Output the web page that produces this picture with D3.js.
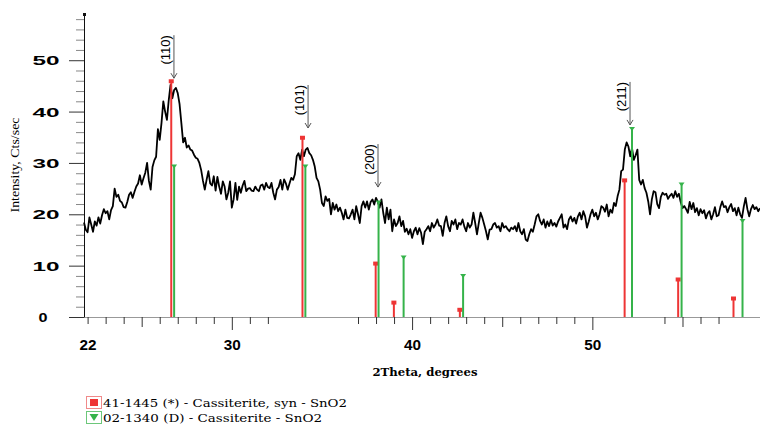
<!DOCTYPE html>
<html>
<head>
<meta charset="utf-8">
<script src="https://cdn.jsdelivr.net/npm/d3@7"></script>
<style>
    body { margin: 0; background: #fff; }
    svg { display: block; }
</style>
</head>
<body>
<div id="chart"></div>
<script>
// scan: 2theta start / step, counts
var scanStart = 21.8
    , scanStep = 0.1;

var counts = [
    18.4, 17.0, 16.5, 19.4, 18.0, 16.6, 18.6, 17.8, 19.4, 18.2,
    19.8, 21.0, 20.2, 20.6, 19.0, 20.8, 21.6, 25.0, 23.4, 23.8,
    22.6, 22.3, 21.4, 21.3, 22.4, 23.8, 24.3, 23.2, 24.4, 25.4,
    26.0, 27.6, 25.8, 27.0, 28.1, 30.0, 26.5, 24.8, 29.2, 30.5,
    31.2, 36.6, 34.5, 37.8, 42.0, 40.0, 38.4, 42.2, 45.2, 42.6,
    44.2, 44.6, 43.6, 41.5, 37.8, 34.0, 34.9, 33.0, 33.4, 32.6,
    32.4, 31.6, 31.0, 30.8, 30.0, 28.6, 26.5, 24.8, 26.7, 28.4,
    26.0, 25.6, 27.4, 24.6, 27.3, 25.4, 24.0, 26.4, 25.4, 22.9,
    24.2, 26.4, 21.3, 22.9, 26.1, 22.8, 25.4, 24.2, 25.6, 26.5,
    24.5, 25.0, 25.1, 24.6, 24.5, 25.4, 24.8, 24.5, 25.6, 25.8,
    24.8, 26.1, 25.3, 25.1, 26.1, 24.2, 22.9, 24.8, 25.3, 26.7,
    24.8, 26.8, 26.0, 24.8, 26.0, 27.1, 26.7, 27.8, 31.3, 31.9,
    30.6, 32.6, 31.3, 32.6, 32.9, 31.9, 31.5, 30.6, 29.3, 27.1,
    26.4, 24.8, 22.2, 21.6, 23.5, 22.6, 23.0, 20.0, 22.2, 20.9,
    21.9, 20.6, 21.3, 20.3, 19.0, 20.9, 19.3, 19.2, 20.0, 20.9,
    19.0, 21.6, 20.0, 18.3, 21.6, 22.5, 21.3, 22.5, 20.9, 22.4,
    22.9, 21.9, 23.2, 22.4, 21.3, 22.9, 20.3, 18.3, 21.3, 19.0,
    20.9, 16.7, 19.0, 17.7, 18.3, 19.6, 17.7, 18.7, 16.6, 17.2,
    16.1, 17.1, 15.4, 16.7, 17.4, 16.1, 17.3, 16.4, 14.2, 16.6,
    17.1, 17.7, 16.7, 18.3, 17.4, 18.0, 19.0, 17.8, 17.7, 15.8,
    18.3, 19.6, 17.7, 16.7, 18.7, 18.0, 19.0, 17.1, 18.3, 18.0,
    19.0, 17.6, 16.7, 18.3, 17.4, 18.0, 20.3, 18.3, 16.1, 18.3,
    20.3, 19.3, 18.0, 16.7, 15.1, 17.0, 17.1, 18.0, 18.3, 17.4,
    17.7, 16.7, 18.3, 17.4, 17.7, 17.1, 16.7, 17.4, 17.1, 17.7,
    16.7, 18.3, 16.7, 16.1, 17.1, 15.1, 14.8, 16.1, 17.1, 16.6,
    18.0, 19.6, 20.0, 18.7, 18.0, 19.0, 17.4, 18.6, 17.7, 18.9,
    17.8, 18.3, 17.6, 18.6, 19.3, 20.0, 17.4, 18.0, 17.1, 19.0,
    19.6, 18.6, 19.3, 18.2, 19.6, 20.3, 19.0, 20.6, 19.6, 17.4,
    18.6, 20.0, 20.9, 19.6, 20.3, 19.0, 20.0, 21.6, 21.3, 20.5,
    21.9, 19.6, 20.9, 20.3, 22.2, 21.6, 23.5, 24.8, 28.4, 28.7,
    32.6, 34.0, 33.2, 31.3, 32.9, 30.6, 31.5, 32.6, 26.7, 25.8,
    26.7, 25.1, 24.2, 22.5, 20.0, 22.9, 24.5, 24.3, 22.0, 21.2,
    23.4, 24.2, 23.8, 24.0, 23.0, 23.6, 24.0, 23.2, 24.5, 23.4,
    24.0, 22.4, 21.2, 21.6, 21.0, 20.3, 22.4, 21.0, 22.2, 20.4,
    21.2, 19.8, 21.0, 20.2, 20.8, 19.2, 20.2, 20.6, 19.0, 20.0,
    21.4, 19.6, 19.8, 21.4, 22.5, 21.4, 21.6, 20.4, 21.4, 22.0,
    20.6, 21.2, 19.8, 21.3, 20.0, 19.3, 21.5, 23.2, 21.0, 19.6,
    21.0, 21.8, 21.0, 21.4, 20.6, 21.2
];

// reference patterns
var synPos = [26.64, 33.92, 37.98, 38.99, 42.65, 51.79, 54.76, 57.83];
var synInt = [46.0, 35.0, 10.5, 2.9, 1.5, 26.7, 7.4, 3.7];
var natPos = [26.80, 34.08, 38.14, 39.53, 42.83, 52.20, 54.95, 58.33];
var natInt = [29.5, 29.5, 22.5, 11.8, 8.2, 36.8, 26.0, 18.9];

// hkl annotations
var hklLabels = ['(110)', '(101)', '(200)', '(211)'];
var hklPos = [26.79, 34.23, 38.11, 52.09];
var hklTip = [46.5, 36.8, 25.3, 37.4];

var xTicks = [22, 23, 24, 25, 26, 27, 28, 29, 30, 31, 32,
    37, 38, 39, 40, 41, 42, 43, 44, 45, 46, 47, 48, 49, 50, 54, 55, 56, 57];
var xLabelTicks = [22, 30, 40, 50];
var yLabelTicks = [0, 10, 20, 30, 40, 50];

var legendNames = [
    '41-1445 (*) - Cassiterite, syn - SnO2',
    '02-1340 (D) - Cassiterite - SnO2'
];

;(function () {

    var width = 760
        , height = 424
        , red = '#ee3535'
        , green = '#35b34a'
        , svg, x, y;

    function drawAxes() {
        var gx = svg.append('g')
            .attr('transform', 'translate(0,' + y(0) + ')')
            .call(d3.axisBottom(x)
                .tickValues(xTicks)
                .tickSize(7)
                .tickSizeOuter(0)
                .tickFormat(function(d) {
                    return xLabelTicks.indexOf(d) >= 0 ? d : '';
                }));

        gx.select('.domain').attr('stroke', '#999');
        gx.selectAll('.tick line')
            .attr('stroke', '#333')
            .attr('y2', function(d) {
                return d % 10 === 0 ? 13 : (d % 5 === 0 ? 10 : 7);
            });
        gx.selectAll('.tick text')
            .attr('y', 33)
            .attr('dy', 0)
            .attr('fill', '#000')
            .style('font', 'bold 14px "Liberation Sans", Arial, sans-serif')
            .attr('textLength', 17)
            .attr('lengthAdjust', 'spacingAndGlyphs');

        var gy = svg.append('g')
            .attr('transform', 'translate(' + x.range()[0] + ',0)')
            .call(d3.axisLeft(y)
                .tickValues(d3.range(0, 59, 2))
                .tickSize(8)
                .tickSizeOuter(0)
                .tickFormat(function(d) {
                    return yLabelTicks.indexOf(d) >= 0 ? d : '';
                }));

        gy.select('.domain').attr('stroke', '#111');
        gy.selectAll('.tick line')
            .attr('stroke', function(d) { return d % 10 === 0 ? '#333' : '#888'; })
            .attr('x2', function(d) { return d % 10 === 0 ? -15 : -8; });
        gy.selectAll('.tick text')
            .attr('x', function(d) { return d === 0 ? -41 : -38; })
            .attr('dy', '0.36em')
            .attr('text-anchor', 'middle')
            .attr('fill', '#000')
            .style('font', 'bold 13px "Liberation Sans", Arial, sans-serif')
            .attr('textLength', function(d) { return d === 0 ? 9 : 27; })
            .attr('lengthAdjust', 'spacingAndGlyphs');

        // little mark on top of the y axis
        svg.append('rect')
            .attr('x', x.range()[0] - 1)
            .attr('y', y.range()[1] - 1)
            .attr('width', 3)
            .attr('height', 3)
            .attr('fill', '#111');

        svg.append('text')
            .attr('transform', 'translate(19,165) rotate(-90)')
            .attr('text-anchor', 'middle')
            .style('font', '13px "Liberation Serif", "Times New Roman", serif')
            .attr('textLength', 95)
            .attr('lengthAdjust', 'spacingAndGlyphs')
            .text('Intensity, Cts/sec');

        svg.append('text')
            .attr('x', 425)
            .attr('y', 376)
            .attr('text-anchor', 'middle')
            .style('font', 'bold 11px "DejaVu Serif", serif')
            .attr('textLength', 105)
            .attr('lengthAdjust', 'spacingAndGlyphs')
            .text('2Theta, degrees');
    }

    function drawScan() {
        var line = d3.line()
            .x(function(d, i) { return x(scanStart + i * scanStep); })
            .y(function(d) { return y(d); });

        svg.append('path')
            .datum(counts)
            .attr('fill', 'none')
            .attr('stroke', '#000')
            .attr('stroke-width', 1.8)
            .attr('stroke-linejoin', 'round')
            .attr('d', line);
    }

    function drawSticks(pos, ints, color, marker) {
        var g = svg.append('g');
        var data = pos.map(function(p, i) { return [p, ints[i]]; });

        g.selectAll('line')
            .data(data)
            .enter().append('line')
            .attr('x1', function(d) { return x(d[0]); })
            .attr('x2', function(d) { return x(d[0]); })
            .attr('y1', y(0))
            .attr('y2', function(d) { return y(d[1]); })
            .attr('stroke', color)
            .attr('stroke-width', 2);

        if (marker === 'square') {
            g.selectAll('rect')
                .data(data)
                .enter().append('rect')
                .attr('x', function(d) { return x(d[0]) - 2.5; })
                .attr('y', function(d) { return y(d[1]) - 1.5; })
                .attr('width', 5)
                .attr('height', 4)
                .attr('fill', color);
        } else {
            g.selectAll('path')
                .data(data)
                .enter().append('path')
                .attr('d', function(d) {
                    var cx = x(d[0]), cy = y(d[1]);
                    return 'M' + (cx - 3) + ',' + (cy - 1) + 'L' + (cx + 3) + ',' + (cy - 1) + 'L' + cx + ',' + (cy + 3) + 'Z';
                })
                .attr('fill', color);
        }
    }

    function drawHkl() {
        var g = svg.append('g');
        hklLabels.forEach(function(label, i) {
            var tx = x(hklPos[i])
                , ty = y(hklTip[i])
                , top = ty - 43;

            g.append('line')
                .attr('x1', tx).attr('x2', tx)
                .attr('y1', top).attr('y2', ty)
                .attr('stroke', '#555')
                .attr('stroke-width', 1);
            g.append('path')
                .attr('d', 'M' + (tx - 3) + ',' + (ty - 5) + 'L' + tx + ',' + ty + 'L' + (tx + 3) + ',' + (ty - 5))
                .attr('fill', 'none')
                .attr('stroke', '#555')
                .attr('stroke-width', 1);
            g.append('text')
                .attr('transform', 'translate(' + (tx - 4) + ',' + top + ') rotate(-90)')
                .attr('text-anchor', 'end')
                .style('font', '13px "Liberation Sans", Arial, sans-serif')
                .text(label);
        });
    }

    function drawLegend() {
        var g = svg.append('g');
        var rows = [
            { name: legendNames[0], color: red, border: '#f08a8a', y: 396.5, tl: 244 },
            { name: legendNames[1], color: green, border: '#6cc77a', y: 411.5, tl: 219 }
        ];

        rows.forEach(function(r, i) {
            g.append('rect')
                .attr('x', 86.5).attr('y', r.y)
                .attr('width', 15).attr('height', 12)
                .attr('fill', '#fff')
                .attr('stroke', r.border);
            if (i === 0) {
                g.append('rect')
                    .attr('x', 90).attr('y', r.y + 2.5)
                    .attr('width', 8).attr('height', 7)
                    .attr('fill', r.color);
            } else {
                g.append('path')
                    .attr('d', 'M89.5,' + (r.y + 2.5) + 'L98.5,' + (r.y + 2.5) + 'L94,' + (r.y + 9.5) + 'Z')
                    .attr('fill', r.color);
            }
            g.append('text')
                .attr('x', 103)
                .attr('y', r.y + 10.5)
                .style('font', '11.5px "DejaVu Serif", serif')
                .attr('textLength', r.tl)
                .attr('lengthAdjust', 'spacingAndGlyphs')
                .text(r.name);
        });
    }

    function initialize() {
        svg = d3.select('#chart').append('svg')
            .attr('width', width)
            .attr('height', height);

        x = d3.scaleLinear().domain([21.8, 59.3]).range([84, 760]);
        y = d3.scaleLinear().domain([0, 59]).range([317, 14]);

        drawAxes();
        drawScan();
        drawSticks(synPos, synInt, red, 'square');
        drawSticks(natPos, natInt, green, 'triangle');
        drawHkl();
        drawLegend();
    }

    initialize();

}());
</script>
</body>
</html>
